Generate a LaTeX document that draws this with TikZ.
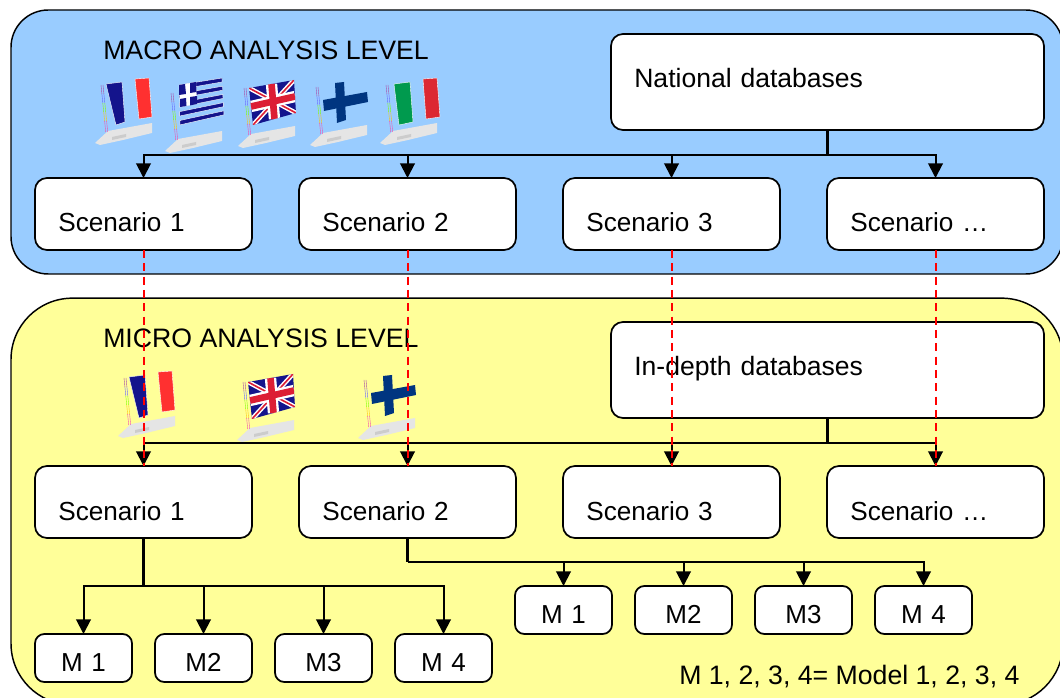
\documentclass[tikz,border=0pt]{standalone}
\usepackage{fontspec}
\setmainfont{Liberation Sans}
\usetikzlibrary{positioning,arrows.meta}

\definecolor{macrofill}{HTML}{99CCFF}
\definecolor{microfill}{HTML}{FFFF99}
\definecolor{flagnavy}{HTML}{14148C}
\definecolor{flagfinn}{HTML}{003580}
\definecolor{flagred}{HTML}{FF3030}
\definecolor{flagukred}{HTML}{DC1E35}
\definecolor{flaggreen}{HTML}{009A4E}
\definecolor{flagitred}{HTML}{DC2832}

\tikzset{
	% the pole and the shadow under each flag
	flagbase/.pic={
		\fill[black!10] (-7,58) -- (6,46) -- (50,38) -- (50,48) -- (21,55) -- (-2,60) -- cycle;
		\fill[black!20] (10,52) -- (24,49) -- (24,52) -- (10,55) -- cycle;
		\foreach \ya/\yb/\poleclr in {0/9/violet!70,9/18/blue!60,18/27/green!50!yellow,27/36/yellow!60!orange,36/47/magenta!70} {
			\draw[\poleclr,line width=.3pt] ({-1+\ya*.1},\ya) -- ({-1+\yb*.1},\yb);
			\draw[\poleclr,line width=.3pt] ({1+\ya*.1},\ya) -- ({1+\yb*.1},\yb);
		}
	},
	flagfr/.pic={
		\pic {flagbase};
		\fill[flagnavy,draw=white,line width=.3pt] (4,-1) -- (20,-3) -- (23,37) -- (14,40) -- cycle;
		\fill[flagred,draw=white,line width=.3pt] (33,-6) -- (47,-7) -- (50,32) -- (37,34) -- cycle;
	},
	flaggr/.pic={
		\pic {flagbase};
		\foreach \i in {0,2,4,6,8}
			\fill[flagnavy,draw=white,line width=.3pt] ({7+\i/9},{-8+4.44*\i}) -- ({50+.22*\i},{-15+4.11*\i}) -- ({50.1+.22*\i},{-11+4.11*\i}) -- ({7+\i/9},{-3.6+4.44*\i}) -- cycle;
		\fill[white] (7,-8) -- (24,-11) -- (25,11) -- (8,14) -- cycle;
		\fill[flagnavy] (7,-8) -- (13,-9) -- (14,1) -- (7,2) -- cycle;
		\fill[flagnavy] (18,-10) -- (24,-11) -- (24.5,-1) -- (18,0) -- cycle;
		\fill[flagnavy] (8,6) -- (14,5) -- (14.5,13) -- (8,14) -- cycle;
		\fill[flagnavy] (18,4) -- (25,3) -- (25,11) -- (18,12.5) -- cycle;
	},
	flaguk/.pic={
		\pic {flagbase};
		\fill[flagnavy] (4,0) -- (49,-8) -- (51,25) -- (8,37) -- cycle;
		\begin{scope}
			\clip (4,0) -- (49,-8) -- (51,25) -- (8,37) -- cycle;
			\draw[white,line width=3.4pt] (4,0) -- (51,25) (49,-8) -- (8,37);
			\draw[flagukred,line width=1.2pt] (4,0) -- (51,25) (49,-8) -- (8,37);
			\draw[white,line width=8.5pt] (26.5,-4) -- (29.5,31) (6,18.5) -- (50,8.5);
			\draw[flagukred,line width=5pt] (26.5,-4) -- (29.5,31) (6,18.5) -- (50,8.5);
		\end{scope}
	},
	flagfi/.pic={
		\pic {flagbase};
		\fill[flagfinn] (18,-4) -- (27,-5) -- (29,33) -- (20,36) -- cycle;
		\fill[flagfinn] (6,13) -- (50,5) -- (51,15) -- (7,24) -- cycle;
	},
	flagit/.pic={
		\pic {flagbase};
		\fill[flaggreen,draw=white,line width=.3pt] (7,-1) -- (23,-3) -- (26,37) -- (12,40) -- cycle;
		\fill[flagitred,draw=white,line width=.3pt] (36,-6) -- (50,-7) -- (53,32) -- (39,34) -- cycle;
	}
}

\begin{document}
\begin{tikzpicture}[x=.75pt,y=-.75pt,node distance=35.25pt,
	% The two big background panels
	levelpanel/.style={
		rectangle,
		draw=black,
		line width=1.1pt,
		outer sep=0pt,
		inner sep=0pt
		},
	% Text sits low in the boxes, hence the fixed height and depth
	scenariobox/.style={
		rectangle,
		rounded corners=9pt,
		draw=black,
		fill=white,
		line width=1.3pt,
		outer sep=0pt,
		inner ysep=0pt,
		inner xsep=17.5pt,
		text width=127.75pt,
		align=left,
		text height=40.5pt,
		text depth=13.5pt,
		font=\fontsize{19.6}{23}\selectfont
		},
	databox/.style={
		scenariobox,
		text width=289.75pt,
		text depth=31.5pt,
		font=\fontsize{19.9}{23}\selectfont
		},
	modelbox/.style={
		rectangle,
		rounded corners=7pt,
		draw=black,
		fill=white,
		line width=1.3pt,
		outer sep=0pt,
		inner sep=0pt,
		text width=72.75pt,
		align=center,
		text height=27.75pt,
		text depth=8.25pt,
		font=\fontsize{19.5}{23}\selectfont
		},
	levellabel/.style={
		anchor=base west,
		inner sep=0pt,
		font=\fontsize{20}{23}\selectfont
		},
	flow/.style={
		draw=black,
		line width=1.5pt,
		-{Triangle[length=11pt,width=11pt]}
		},
	feed/.style={
		draw=black,
		line width=1.6pt
		},
	crosslink/.style={
		draw=red,
		line width=1.3pt,
		dash pattern=on 6pt off 4pt
		}]

	\useasboundingbox (0,0) rectangle (1060,698);

	% macro level
	\node (macropanel) [levelpanel,fill=macrofill,rounded corners=28pt,minimum width=789pt,minimum height=198pt] at (537,142) {};
	\node (macrolabel) [levellabel] at (103,60) {MACRO ANALYSIS LEVEL};
	\node (national) [databox] at (827.5,82) {National databases};
	\node (macro1) [scenariobox] at (143.5,214) {Scenario 1};
	\node (macro2) [scenariobox,right=of macro1] {Scenario 2};
	\node (macro3) [scenariobox,right=of macro2] {Scenario 3};
	\node (macro4) [scenariobox,right=of macro3] {Scenario …};
	\coordinate [below=18.75pt of national] (macrobus);

	\pic at (102,85) {flagfr};
	\pic at (172,93) {flaggr};
	\pic at (245,88) {flaguk};
	\pic at (317,87) {flagfi};
	\pic at (387,85) {flagit};

	\draw[feed] (national) -- (macrobus);
	\foreach \n in {1,2,3,4}
		\draw[flow] (macrobus) -| (macro\n);

	% micro level
	\node (micropanel) [levelpanel,fill=microfill,rounded corners=46pt,minimum width=789pt,minimum height=305pt] at (537,501.5) {};
	\node (microlabel) [levellabel] at (103,348) {MICRO ANALYSIS LEVEL};
	\node (indepth) [databox] at (827.5,370) {In-depth databases};
	\node (micro1) [scenariobox] at (143.5,502) {Scenario 1};
	\node (micro2) [scenariobox,right=of micro1] {Scenario 2};
	\node (micro3) [scenariobox,right=of micro2] {Scenario 3};
	\node (micro4) [scenariobox,right=of micro3] {Scenario …};
	\coordinate [below=18.75pt of indepth] (microbus);

	\pic at (125,378) {flagfr};
	\pic at (244,382) {flaguk};
	\pic at (365,380) {flagfi};

	\draw[feed] (indepth) -- (microbus);
	\foreach \n in {1,2,3,4}
		\draw[flow] (microbus) -| (micro\n);

	% models under scenario 1
	\node (modela1) [modelbox] at (83.5,658) {M 1};
	\node (modela2) [modelbox,right=17.25pt of modela1] {M2};
	\node (modela3) [modelbox,right=17.25pt of modela2] {M3};
	\node (modela4) [modelbox,right=17.25pt of modela3] {M 4};
	\coordinate [below=36pt of micro1] (modelabus);
	\draw[feed] (micro1) -- (modelabus);
	\foreach \n in {1,2,3,4}
		\draw[flow] (modelabus) -| (modela\n);

	% models under scenario 2
	\node (modelb1) [modelbox] at (563.5,610) {M 1};
	\node (modelb2) [modelbox,right=17.25pt of modelb1] {M2};
	\node (modelb3) [modelbox,right=17.25pt of modelb2] {M3};
	\node (modelb4) [modelbox,right=17.25pt of modelb3] {M 4};
	\coordinate [below=18pt of micro2] (modelbbus);
	\draw[feed] (micro2) -- (modelbbus);
	\foreach \n in {1,2,3,4}
		\draw[flow] (modelbbus) -| (modelb\n);

	\node (modelnote) [levellabel] at (679,684) {M 1, 2, 3, 4= Model 1, 2, 3, 4};

	% links between the two levels
	\coordinate (linktop1) at (144,250);
	\coordinate (linkend1) at (144,466);
	\coordinate (linktop2) at (408,250);
	\coordinate (linkend2) at (408,466);
	\coordinate (linktop3) at (672,250);
	\coordinate (linkend3) at (672,466);
	\coordinate (linktop4) at (936,250);
	\coordinate (linkend4) at (936,466);
	\draw[crosslink] (linktop1) -- (linkend1);
	\draw[crosslink] (linktop2) -- (linkend2);
	\draw[crosslink] (linktop3) -- (linkend3);
	\draw[crosslink] (linktop4) -- (linkend4);

\end{tikzpicture}
\end{document}
